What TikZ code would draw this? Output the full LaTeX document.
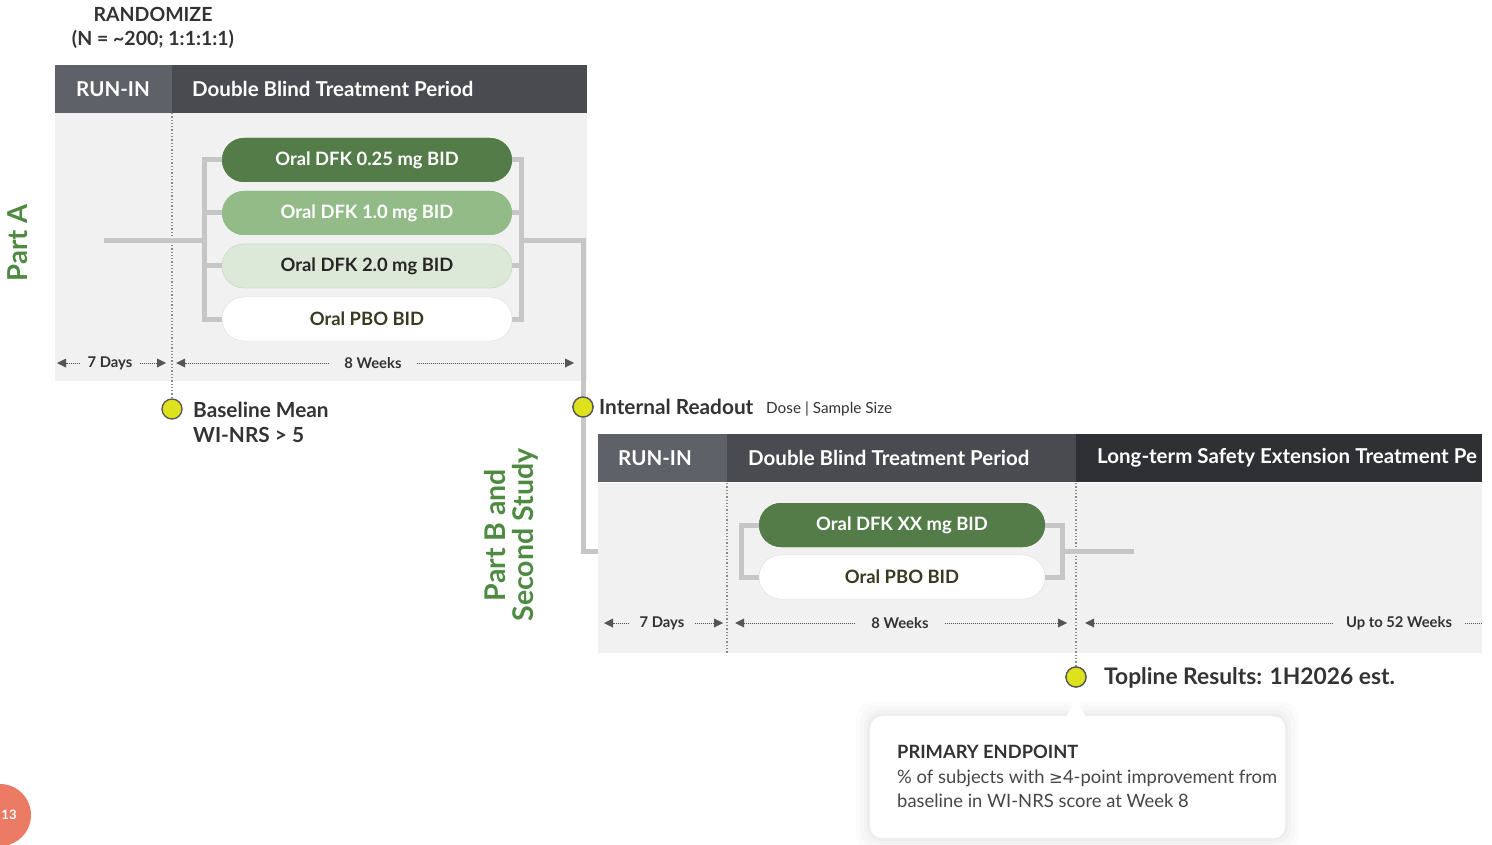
\documentclass[tikz,border=0pt]{standalone}
\usepackage{fontspec}
\setmainfont{Lato}
\newfontfamily\symf{DejaVu Sans}
\usetikzlibrary{arrows.meta,shapes.misc}
\definecolor{hdrA}{HTML}{5E6168}
\definecolor{hdrB}{HTML}{4A4B50}
\definecolor{hdrC}{HTML}{2F3033}
\definecolor{panel}{HTML}{F1F1F1}
\definecolor{brk}{HTML}{C6C6C6}
\definecolor{gA}{HTML}{547C49}
\definecolor{gB}{HTML}{93BB88}
\definecolor{gC}{HTML}{DDE9D8}
\definecolor{gCb}{HTML}{C9D8C4}
\definecolor{partg}{HTML}{4F8A43}
\definecolor{ylw}{HTML}{DEE21C}
\definecolor{txt}{HTML}{333333}
\definecolor{olive}{HTML}{3A3A22}
\definecolor{pagec}{HTML}{EC7B66}
\definecolor{arr}{HTML}{555555}
\definecolor{dotc}{HTML}{8A8A8A}
\tikzset{
  hdrbox/.style={draw=none, minimum height=48pt, anchor=north west, inner sep=0pt},
  hdrtxt/.style={anchor=west, text=white, font=\bfseries\fontsize{20.5}{24}\selectfont, inner sep=0pt},
  pill/.style={rounded rectangle, minimum width=290pt, minimum height=44pt, inner sep=0pt, font=\bfseries\fontsize{18.4}{22}\selectfont},
  br/.style={brk, line width=5pt},
  darr/.style={arr, densely dotted, line width=1pt, -{Triangle[length=9pt,width=9pt,line width=0pt]}},
  dlabel/.style={text=txt, font=\bfseries\fontsize{14.8}{16}\selectfont, inner ysep=0pt},
  vdot/.style={dotc, dotted, line width=1.3pt},
  mile/.style={circle, fill=ylw, draw=arr, line width=1.3pt, minimum size=20pt, inner sep=0pt},
  mtxt/.style={anchor=west, text=txt, font=\bfseries\fontsize{20.8}{25}\selectfont, inner sep=0pt, align=left},
}
\begin{document}
\begin{tikzpicture}[x=1pt,y=-1pt]
\useasboundingbox (0,0) rectangle (1492,845);
\clip (0,0) rectangle (1492,845);
% top labels
\node[text=txt, font=\bfseries\fontsize{19.5}{24}\selectfont, align=center] (rand) at (153,28) {RANDOMIZE\\(N = \textasciitilde200; 1:1:1:1)};
% Part A panel and header
\fill[panel] (55,113) rectangle (587,381);
\node[hdrbox, fill=hdrA, minimum width=117pt] (hA1) at (55,65) {};
\node[hdrbox, fill=hdrB, minimum width=415pt] (hA2) at (172,65) {};
\node[hdrtxt] (tA1) at (76,89) {RUN-IN};
\node[hdrtxt] (tA2) at (192,89) {Double Blind Treatment Period};
% Part A label
\node[rotate=90, text=partg, font=\bfseries\fontsize{27.5}{30}\selectfont] (partA) at (18,243) {Part A};
% milestone circles
\node[mile] (base) at (172,409) {};
\node[mile] (intr) at (583,407) {};
\node[mile] (top) at (1076,677) {};
% dotted vertical
\coordinate (vA) at (172,113);
\draw[vdot] (vA) -- (base.north);
% Part A arms
\node[pill, fill=gA, text=white] (pA1) at (367,160) {Oral DFK 0.25 mg BID};
\node[pill, fill=gB, text=white] (pA2) at (367,213) {Oral DFK 1.0 mg BID};
\node[pill, fill=gC, draw=gCb, text=black!85] (pA3) at (367,266) {Oral DFK 2.0 mg BID};
\node[pill, fill=white, draw=black!12, text=olive] (pA4) at (367,319) {Oral PBO BID};
\coordinate (inA) at (104,241);
\coordinate (jAL) at (204,241);
\coordinate (jAR) at (521,241);
\coordinate (kA) at (583,241);
\coordinate (kB) at (583,551);
\coordinate (jBL) at (741,551);
\coordinate (jBR) at (1062,551);
\coordinate (outB) at (1134,551);
% brackets drawn, then pills redrawn on top
\draw[br] (inA) -- (jAL);
\draw[br] ([xshift=2pt]pA1.west) -| (jAL) |- ([xshift=2pt]pA4.west);
\draw[br] ([xshift=2pt]pA2.west) -- (pA2.west -| jAL);
\draw[br] ([xshift=2pt]pA3.west) -- (pA3.west -| jAL);
\draw[br] ([xshift=-2pt]pA1.east) -| (jAR) |- ([xshift=-2pt]pA4.east);
\draw[br] ([xshift=-2pt]pA2.east) -- (pA2.east -| jAR);
\draw[br] ([xshift=-2pt]pA3.east) -- (pA3.east -| jAR);
\draw[br, line join=miter] (jAR) -- (kA) -- (kB) -- (jBL);
\node[pill, fill=gA, text=white] at (pA1) {Oral DFK 0.25 mg BID};
\node[pill, fill=gB, text=white] at (pA2) {Oral DFK 1.0 mg BID};
\node[pill, fill=gC, draw=gCb, text=black!85] at (pA3) {Oral DFK 2.0 mg BID};
\node[pill, fill=white, draw=black!12, text=olive] at (pA4) {Oral PBO BID};
% Part A duration arrows
\node[dlabel, inner xsep=7pt] (dA1) at (110,363) {7 Days};
\coordinate (dA1L) at (57,363); \coordinate (dA1R) at (166,363);
\draw[darr] (dA1.west) -- (dA1L);
\draw[darr] (dA1.east) -- (dA1R);
\node[dlabel, inner xsep=15pt] (dA2) at (373,363) {8 Weeks};
\coordinate (dA2L) at (176,363); \coordinate (dA2R) at (574,363);
\draw[darr] (dA2.west) -- (dA2L);
\draw[darr] (dA2.east) -- (dA2R);
% redraw circle on top of vertical line
\node[mile] at (intr) {};
% milestone texts
\node[mtxt] (baseT) at (193,422) {Baseline Mean\\WI-NRS > 5};
\node[mtxt] (intrT) at (599,407) {Internal Readout};
\node[anchor=west, text=txt, font=\fontsize{15.3}{17}\selectfont, inner sep=0pt] (dose) at (766,409) {Dose | Sample Size};
% Part B label
\node[rotate=90, text=partg, font=\bfseries\fontsize{28.5}{28}\selectfont, align=center] (partB) at (511,535) {Part B and\\Second Study};
% Part B
\fill[panel] (598,483) rectangle (1482,653);
\node[hdrbox, fill=hdrA, minimum width=129pt] (hB1) at (598,434) {};
\node[hdrbox, fill=hdrB, minimum width=349pt] (hB2) at (727,434) {};
\node[hdrbox, fill=hdrC, minimum width=406pt] (hB3) at (1076,434) {};
\node[hdrtxt] (tB1) at (618,458) {RUN-IN};
\node[hdrtxt] (tB2) at (748,458) {Double Blind Treatment Period};
\node[hdrtxt] (tB3) at (1097,458) {Long-term Safety Extension Treatment Pe};
\coordinate (vB1) at (727,483); \coordinate (vB1b) at (727,653);
\coordinate (vB2) at (1076,483);
\draw[vdot] (vB1) -- (vB1b);
\draw[vdot] (vB2) -- (top.north);
\node[dlabel, inner xsep=10pt] (dB1) at (662,623) {7 Days};
\coordinate (dB1L) at (604,623); \coordinate (dB1R) at (723,623);
\draw[darr] (dB1.west) -- (dB1L);
\draw[darr] (dB1.east) -- (dB1R);
\node[dlabel, inner xsep=16pt] (dB2) at (900,623) {8 Weeks};
\coordinate (dB2L) at (735,623); \coordinate (dB2R) at (1067,623);
\draw[darr] (dB2.west) -- (dB2L);
\draw[darr] (dB2.east) -- (dB2R);
\node[dlabel, inner xsep=13pt] (dB3) at (1399,623) {Up to 52 Weeks};
\coordinate (dB3L) at (1085,623); \coordinate (dB3R) at (1482,623);
\draw[darr] (dB3.west) -- (dB3L);
\draw[arr, densely dotted, line width=1pt] (dB3.east) -- (dB3R);
\node[pill, fill=gA, text=white, minimum width=286pt] (pB1) at (902,525) {Oral DFK XX mg BID};
\node[pill, fill=white, draw=black!12, text=olive, minimum width=286pt] (pB2) at (902,577) {Oral PBO BID};
\draw[br] ([xshift=2pt]pB1.west) -| (jBL) |- ([xshift=2pt]pB2.west);
\draw[br] ([xshift=-2pt]pB1.east) -| (jBR) |- ([xshift=-2pt]pB2.east);
\draw[br] (jBR) -- (outB);
\node[pill, fill=gA, text=white, minimum width=286pt] at (pB1) {Oral DFK XX mg BID};
\node[pill, fill=white, draw=black!12, text=olive, minimum width=286pt] at (pB2) {Oral PBO BID};
\node[mile] at (top) {};
\node[mtxt, font=\bfseries\fontsize{22.8}{26}\selectfont] (topT) at (1104,678) {Topline Results: 1H2026 est.};
% callout with soft shadow
\foreach \s/\o in {14/0.012,10/0.015,6/0.02,3/0.025}{
  \fill[black, opacity=\o, rounded corners=16pt] (870-\s,716-\s) rectangle (1285+\s,838+\s);
}
\node[fill=white, rounded corners=12pt, minimum width=415pt, minimum height=122pt, anchor=north west, inner sep=0pt] (cbox) at (870,716) {};
\fill[white] (1066,717) -- (top.south |- 0,700) -- (1086,717) -- cycle;
\node[anchor=west, text=txt, font=\bfseries\fontsize{18.3}{22}\selectfont, inner sep=0pt] (cT) at (897,752) {PRIMARY ENDPOINT};
\node[anchor=north west, text=black!72, font=\fontsize{18.4}{24}\selectfont, inner sep=0pt, align=left] (cB) at (897,770) {\% of subjects with {\symf\fontsize{16.5}{24}\selectfont ≥}4-point improvement from\\baseline in WI-NRS score at Week 8};
% page number
\node[circle, fill=pagec, minimum size=62pt, inner sep=0pt] (pg) at (0,815) {};
\node[text=white, font=\bfseries\fontsize{13}{15}\selectfont, inner sep=0pt] (pgT) at (9,815) {13};
\end{tikzpicture}
\end{document}
